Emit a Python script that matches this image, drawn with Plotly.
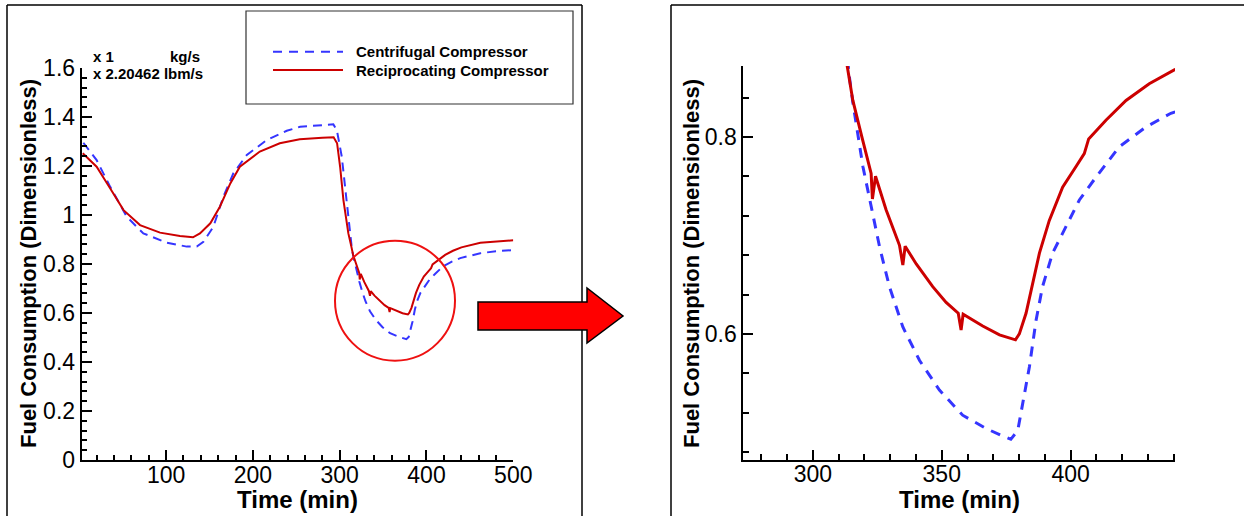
import plotly.graph_objects as go

# ---------------- data ----------------
time_recip = [4, 20, 35.5, 51, 70, 93, 116, 131, 139, 151, 162, 174, 185, 208, 231,
              254, 280, 293, 297, 300.5, 304.3, 310, 313.4, 315.5, 319, 322.6, 323.1,
              324.3, 328.4, 333.6, 334.9, 335.8, 340.1, 346.5, 351.7, 356.4, 357.5,
              358.3, 365.9, 372.4, 378.6, 380.1, 382.7, 385.3, 387.9, 391.7, 396.9,
              402.1, 405.3, 407, 413.7, 421.5, 430.5, 440.2, 462, 480, 500]
fuel_recip = [1.252, 1.197, 1.109, 1.02, 0.959, 0.928, 0.914, 0.909, 0.925, 0.966,
              1.034, 1.129, 1.197, 1.259, 1.293, 1.309, 1.315, 1.317, 1.293, 1.197,
              1.061, 0.925, 0.872, 0.837, 0.80, 0.763, 0.737, 0.760, 0.726, 0.690,
              0.670, 0.689, 0.671, 0.648, 0.632, 0.621, 0.604, 0.620, 0.608, 0.599,
              0.594, 0.600, 0.621, 0.651, 0.682, 0.715, 0.749, 0.770, 0.783, 0.798,
              0.817, 0.837, 0.854, 0.868, 0.887, 0.893, 0.897]

time_centr = [4.7, 20, 35.5, 54.7, 73.8, 100.8, 123.8, 135.4, 143, 154.5, 166, 177.5,
              193, 216, 239, 254.4, 280, 292.7, 296.7, 302.4, 306.2, 310, 314, 315.5,
              319.4, 322.6, 325.9, 329.7, 334.9, 341.4, 349.1, 358.1, 367.2, 373,
              376.8, 379.5, 382, 384, 386.6, 389.1, 393, 398.2, 403.4, 409.8, 418.9,
              429.2, 438.9, 462, 480, 500]
fuel_centr = [1.295, 1.224, 1.116, 0.993, 0.925, 0.887, 0.871, 0.871, 0.891, 0.952,
              1.075, 1.170, 1.245, 1.306, 1.344, 1.360, 1.367, 1.370, 1.347, 1.238,
              1.116, 0.98, 0.864, 0.835, 0.770, 0.729, 0.688, 0.648, 0.607, 0.573,
              0.543, 0.5175, 0.504, 0.497, 0.493, 0.502, 0.536, 0.5665, 0.614, 0.648,
              0.682, 0.709, 0.736, 0.759, 0.790, 0.810, 0.824, 0.844, 0.852, 0.857]

series_names = ["Centrifugal Compressor", "Reciprocating Compressor"]
x_title = "Time (min)"
y_title = "Fuel Consumption (Dimensionless)"
unit_lines = ["x 1", "kg/s", "x 2.20462 lbm/s"]

# ---------------- layout helpers (pixel -> paper) ----------------
W, H = 1244, 516
def PX(x):
    return x / W
def PY(y):
    return 1 - y / H

BLUE = "#3535ff"
RED = "#cc0000"
FONT = "Liberation Sans, Arial, Helvetica, sans-serif"

fig = go.Figure()

# left (overview) panel
fig.add_trace(go.Scatter(x=time_centr, y=fuel_centr, mode="lines", name=series_names[0],
                         line=dict(color=BLUE, width=2, dash="9px,6px"),
                         xaxis="x", yaxis="y", showlegend=False))
fig.add_trace(go.Scatter(x=time_recip, y=fuel_recip, mode="lines", name=series_names[1],
                         line=dict(color=RED, width=2),
                         xaxis="x", yaxis="y", showlegend=False))
# right (zoomed) panel
fig.add_trace(go.Scatter(x=time_centr, y=fuel_centr, mode="lines", name=series_names[0],
                         line=dict(color=BLUE, width=3, dash="10px,8px"),
                         xaxis="x2", yaxis="y2", showlegend=False))
fig.add_trace(go.Scatter(x=time_recip, y=fuel_recip, mode="lines", name=series_names[1],
                         line=dict(color=RED, width=3),
                         xaxis="x2", yaxis="y2", showlegend=False))

axis_common = dict(showline=True, linecolor="black", linewidth=2, ticks="inside",
                   ticklen=10, tickwidth=2, tickcolor="black", showgrid=False,
                   zeroline=False, automargin=False,
                   tickfont=dict(family=FONT, size=23, color="black"))

fig.update_layout(
    width=W, height=H, margin=dict(l=0, r=0, t=0, b=0, pad=0, autoexpand=False),
    autosize=False,
    paper_bgcolor="white", plot_bgcolor="white",
    font=dict(family=FONT, color="black"),
    xaxis=dict(domain=[PX(81.7), PX(513.3)], range=[2.8, 500.01], dtick=100, tick0=0,
               anchor="y", ticklabelstandoff=-7,
               minor=dict(ticks="inside", dtick=20, tick0=0, ticklen=5, tickwidth=1.5,
                          tickcolor="black"), **axis_common),
    yaxis=dict(domain=[PY(460), PY(68)], range=[0, 1.6001], dtick=0.2, tick0=0,
               anchor="x",
               minor=dict(ticks="inside", dtick=0.04, tick0=0, ticklen=5, tickwidth=1.5,
                          tickcolor="black"), **axis_common),
    xaxis2=dict(domain=[PX(743.3), PX(1175)], range=[273, 440.5], dtick=50, tick0=0,
                anchor="y2", ticklabelstandoff=-8,
                minor=dict(ticks="inside", dtick=10, tick0=0, ticklen=6, tickwidth=1.5,
                           tickcolor="black"), **axis_common),
    yaxis2=dict(domain=[PY(460), PY(66)], range=[0.472, 0.872], dtick=0.2, tick0=0,
                anchor="x2",
                minor=dict(ticks="inside", dtick=0.04, tick0=0, ticklen=6, tickwidth=1.5,
                           tickcolor="black"), **axis_common),
)

shapes = []
def line(x0, y0, x1, y1, color="black", width=1.5, dash="solid"):
    shapes.append(dict(type="line", xref="paper", yref="paper",
                       x0=PX(x0), y0=PY(y0), x1=PX(x1), y1=PY(y1),
                       line=dict(color=color, width=width, dash=dash)))

# panel frames
line(7, 5, 582, 5)
line(7, 5, 7, 516)
line(582, 5, 582, 516)
line(671, 5, 1244, 5)
line(671, 5, 671, 516)

# legend box
shapes.append(dict(type="rect", xref="paper", yref="paper",
                   x0=PX(246), y0=PY(104), x1=PX(573), y1=PY(11),
                   line=dict(color="#333333", width=1.2), fillcolor="rgba(0,0,0,0)"))
line(273, 51.7, 343, 51.7, color=BLUE, width=2, dash="9px,7px")
line(273, 70, 343, 70, color=RED, width=2)

# highlight circle
shapes.append(dict(type="circle", xref="paper", yref="paper",
                   x0=PX(335), y0=PY(360.7), x1=PX(455), y1=PY(240.7),
                   line=dict(color="#ee1111", width=2)))

# arrow
arrow_pts = [(478, 302), (587, 302), (587, 288), (623, 316), (587, 343), (587, 330), (478, 330)]
path = "M " + " L ".join(f"{PX(x):.5f},{PY(y):.5f}" for x, y in arrow_pts) + " Z"
shapes.append(dict(type="path", xref="paper", yref="paper", path=path,
                   fillcolor="#ff0000", line=dict(color="black", width=1.5)))

fig.update_layout(shapes=shapes)

ann = []
def text(x, y, s, size, xanchor="left", angle=0):
    ann.append(dict(xref="paper", yref="paper", x=PX(x), y=PY(y), text=s,
                    showarrow=False, xanchor=xanchor, yanchor="middle", textangle=angle,
                    font=dict(family=FONT, size=size, color="black")))

text(354, 51.7, "<b>" + series_names[0] + "</b>", 15)
text(354, 70, "<b>" + series_names[1] + "</b>", 15)
text(91, 57, "<b>" + unit_lines[0] + "</b>", 15)
text(168, 57, "<b>" + unit_lines[1] + "</b>", 15)
text(91, 73, "<b>" + unit_lines[2] + "</b>", 15)

text(28, 264, "<b>" + y_title + "</b>", 22, xanchor="center", angle=-90)
text(691, 263, "<b>" + y_title + "</b>", 22, xanchor="center", angle=-90)
text(297.5, 499, "<b>" + x_title + "</b>", 24, xanchor="center")
text(959, 499, "<b>" + x_title + "</b>", 24, xanchor="center")

fig.update_layout(annotations=ann)

# remove the page's default body margin so the 1244x516 figure fills the window exactly
fig.write_html("out.html",
               config={"displayModeBar": False},
               post_script="document.body.style.margin='0';"
                           "document.body.style.overflow='hidden';")
